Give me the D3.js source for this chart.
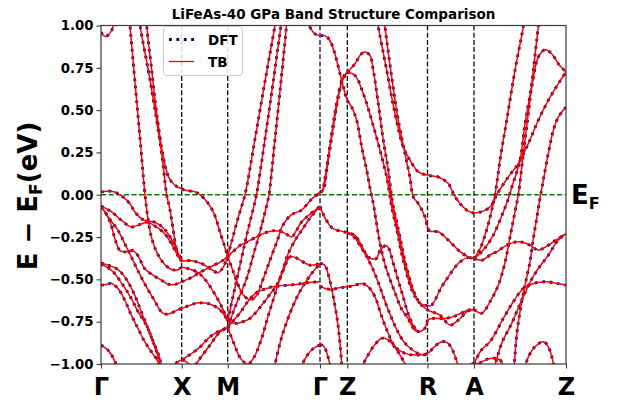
<!DOCTYPE html>
<html><head><meta charset="utf-8">
<script src="https://cdn.jsdelivr.net/npm/d3@7"></script>
<style>body{margin:0;background:#fff;}svg{display:block;font-family:"DejaVu Sans",sans-serif;}</style>
</head><body><svg id="c" width="617" height="402"></svg>
<script>
const titleText = "LiFeAs-40 GPa Band Structure Comparison";
const kTicks = [0, 0.807, 1.267, 2.19, 2.463, 3.265, 3.73, 4.65];
const kLabels = ["Γ", "X", "M", "Γ", "Z", "R", "A", "Z"];
const eTicks = [-1, -0.75, -0.5, -0.25, 0, 0.25, 0.5, 0.75, 1];
const seriesNames = ["DFT", "TB"];

// Γ – X – M
const band01 = [[0,0.96],[0.04,0.935],[0.09,0.955],[0.125,1.0],[0.14,1.06]];
const band02 = [[0.278,1.08],[0.33,0.73],[0.385,0.37],[0.44,0.0],[0.465,-0.12],[0.5,-0.24],[0.55,-0.33],[0.62,-0.40],[0.7,-0.44],[0.76,-0.445],[0.807,-0.43],[0.87,-0.436],[0.97,-0.46],[1.04,-0.5],[1.1,-0.55],[1.17,-0.62],[1.23,-0.69],[1.267,-0.745]];
const band03 = [[0.375,1.08],[0.39,1.0],[0.473,0.736],[0.54,0.5],[0.607,0.243],[0.657,0.0],[0.687,-0.08],[0.72,-0.2],[0.753,-0.318],[0.785,-0.38],[0.807,-0.39],[0.9,-0.39],[1.0,-0.405],[1.1,-0.44],[1.17,-0.46],[1.22,-0.43],[1.267,-0.363]];
const band04 = [[0.45,1.08],[0.457,1.0],[0.507,0.737],[0.557,0.48],[0.623,0.224],[0.68,0.1],[0.74,0.056],[0.807,0.035],[0.84,0.027],[0.94,0.017],[0.99,0.0],[1.05,-0.035],[1.123,-0.101],[1.19,-0.22],[1.267,-0.363]];
const band05 = [[0,0.015],[0.05,0.02],[0.103,0.02],[0.17,0.007],[0.22,-0.013],[0.287,-0.052],[0.337,-0.1],[0.403,-0.141],[0.47,-0.16],[0.553,-0.19],[0.637,-0.23],[0.703,-0.288],[0.77,-0.36],[0.807,-0.386]];
const band06 = [[0,-0.066],[0.103,-0.1],[0.203,-0.15],[0.303,-0.19],[0.37,-0.18],[0.437,-0.165],[0.503,-0.158],[0.57,-0.172],[0.637,-0.205],[0.703,-0.26],[0.76,-0.33],[0.807,-0.39]];
const band07 = [[0,-0.072],[0.04,-0.1],[0.09,-0.16],[0.15,-0.28],[0.19,-0.33],[0.24,-0.338],[0.28,-0.333],[0.32,-0.33],[0.37,-0.36],[0.437,-0.436],[0.52,-0.475],[0.603,-0.504],[0.67,-0.528],[0.737,-0.53],[0.807,-0.515],[0.9,-0.49],[1.0,-0.455],[1.1,-0.425],[1.2,-0.395],[1.267,-0.363]];
const band08 = [[0,-0.07],[0.06,-0.12],[0.12,-0.17],[0.17,-0.21],[0.237,-0.288],[0.303,-0.367],[0.37,-0.45],[0.45,-0.54],[0.53,-0.62],[0.6,-0.69],[0.64,-0.705],[0.7,-0.7],[0.76,-0.682],[0.807,-0.672],[0.88,-0.655],[0.96,-0.64],[1.04,-0.64],[1.1,-0.648],[1.17,-0.67],[1.22,-0.7],[1.267,-0.745]];
const band09 = [[0,-0.403],[0.07,-0.416],[0.153,-0.436],[0.203,-0.46],[0.27,-0.515],[0.337,-0.593],[0.403,-0.691],[0.47,-0.79],[0.537,-0.888],[0.587,-0.966],[0.605,-1.03]];
const band10 = [[0,-0.41],[0.053,-0.426],[0.12,-0.455],[0.22,-0.534],[0.303,-0.613],[0.37,-0.691],[0.453,-0.77],[0.52,-0.868],[0.587,-0.986],[0.6,-1.03]];
const band11 = [[0,-0.534],[0.053,-0.53],[0.103,-0.524],[0.17,-0.554],[0.237,-0.622],[0.303,-0.711],[0.37,-0.79],[0.437,-0.868],[0.503,-0.927],[0.57,-0.986],[0.59,-1.03]];
const band12 = [[0,-0.888],[0.07,-0.918],[0.14,-0.986],[0.16,-1.03]];
const band13 = [[0.7,-1.03],[0.76,-0.99],[0.807,-0.976],[0.86,-0.99],[0.9,-1.03]];
const band14 = [[0.88,-1.03],[0.95,-1.0],[0.99,-0.967],[1.09,-0.888],[1.19,-0.81],[1.267,-0.785]];
const band15 = [[0.807,-0.976],[0.9,-0.94],[0.99,-0.9],[1.07,-0.85],[1.15,-0.815],[1.267,-0.785]];

// M – Γ
const band16 = [[1.267,-0.363],[1.31,-0.27],[1.36,-0.16],[1.40,-0.08],[1.44,0.0],[1.54,0.33],[1.64,0.67],[1.74,1.0],[1.752,1.04]];
const band17 = [[1.267,-0.745],[1.323,-0.593],[1.39,-0.416],[1.457,-0.239],[1.523,-0.082],[1.555,0.0],[1.64,0.33],[1.72,0.66],[1.8,1.0],[1.81,1.04]];
const band18 = [[1.267,-0.785],[1.323,-0.691],[1.39,-0.593],[1.457,-0.495],[1.523,-0.357],[1.59,-0.219],[1.657,-0.062],[1.68,0.0],[1.74,0.33],[1.8,0.67],[1.855,1.0],[1.86,1.04]];
const band19 = [[1.267,-0.363],[1.33,-0.33],[1.39,-0.3],[1.44,-0.285],[1.52,-0.26],[1.6,-0.235],[1.673,-0.219],[1.74,-0.212],[1.807,-0.219],[1.86,-0.235],[1.907,-0.249],[1.95,-0.215],[2.007,-0.16],[2.09,-0.115],[2.19,-0.07]];
const band20 = [[1.267,-0.745],[1.35,-0.76],[1.42,-0.75],[1.49,-0.73],[1.57,-0.68],[1.657,-0.613],[1.757,-0.534],[1.82,-0.45],[1.89,-0.367],[1.94,-0.37],[1.99,-0.386],[2.09,-0.416],[2.19,-0.406]];
const band21 = [[1.267,-0.785],[1.33,-0.74],[1.4,-0.69],[1.47,-0.63],[1.55,-0.58],[1.65,-0.555],[1.75,-0.54],[1.85,-0.535],[1.95,-0.53],[2.05,-0.52],[2.19,-0.514]];
const band22 = [[1.267,-0.363],[1.323,-0.455],[1.373,-0.534],[1.423,-0.593],[1.49,-0.62],[1.55,-0.6],[1.62,-0.5],[1.7,-0.37],[1.77,-0.26],[1.81,-0.19],[1.9,-0.12],[2.007,-0.09],[2.1,-0.03],[2.19,0.015]];
const band23 = [[1.267,-0.785],[1.33,-0.88],[1.4,-0.97],[1.47,-1.0],[1.53,-0.96],[1.6,-0.86],[1.68,-0.7],[1.76,-0.55],[1.82,-0.44],[1.873,-0.347],[1.95,-0.26],[2.007,-0.21],[2.1,-0.13],[2.19,-0.07]];
const band24 = [[1.73,-1.03],[1.78,-0.9],[1.823,-0.81],[1.923,-0.652],[2.0,-0.56],[2.1,-0.47],[2.19,-0.406]];
const band25 = [[1.99,-1.03],[2.05,-0.96],[2.12,-0.91],[2.19,-0.888]];

// Γ – Z – R – A – Z
const band26 = [[2.05,1.03],[2.14,0.95],[2.19,0.94],[2.24,0.94],[2.29,0.91],[2.34,0.83],[2.407,0.675],[2.463,0.558],[2.507,0.518],[2.557,0.44],[2.607,0.282],[2.657,0.145],[2.69,0.04],[2.72,-0.042],[2.753,-0.16],[2.787,-0.278],[2.837,-0.406],[2.887,-0.495],[2.937,-0.573],[3.003,-0.672],[3.07,-0.731],[3.137,-0.8],[3.17,-0.809],[3.237,-0.79],[3.27,-0.74],[3.32,-0.731],[3.42,-0.731],[3.5,-0.725],[3.6,-0.7],[3.68,-0.68],[3.73,-0.677]];
const band27 = [[2.19,0.017],[2.223,0.03],[2.257,0.145],[2.307,0.341],[2.373,0.577],[2.423,0.695],[2.463,0.725]];
const band28 = [[2.19,0.017],[2.21,0.02],[2.24,0.1],[2.29,0.29],[2.35,0.52],[2.41,0.67],[2.463,0.725]];
const band29 = [[2.463,0.725],[2.54,0.774],[2.6,0.83],[2.64,0.843],[2.69,0.823],[2.723,0.735],[2.773,0.538],[2.823,0.322],[2.873,0.145],[2.907,-0.013],[2.93,-0.09],[2.96,-0.17],[2.99,-0.25],[3.02,-0.34],[3.07,-0.46],[3.12,-0.56],[3.17,-0.625],[3.22,-0.66],[3.265,-0.68],[3.3,-0.69],[3.39,-0.711],[3.49,-0.77],[3.59,-0.731],[3.66,-0.69],[3.73,-0.677]];
const band30 = [[2.463,0.725],[2.54,0.705],[2.623,0.597],[2.707,0.44],[2.79,0.263],[2.857,0.105],[2.89,-0.013],[2.91,-0.08],[2.94,-0.16],[2.97,-0.24],[3.0,-0.33],[3.05,-0.45],[3.1,-0.55],[3.15,-0.61],[3.2,-0.645],[3.265,-0.655],[3.3,-0.655],[3.34,-0.622],[3.4,-0.55],[3.473,-0.485],[3.573,-0.406],[3.673,-0.37],[3.73,-0.377]];
const band31 = [[2.765,1.03],[2.773,0.994],[2.857,0.735],[2.94,0.479],[3.023,0.282],[3.09,0.204],[3.173,0.135],[3.273,0.115],[3.373,0.105],[3.473,0.066],[3.53,0.0],[3.59,-0.052],[3.673,-0.097],[3.73,-0.107],[3.823,-0.097],[3.907,-0.062],[3.957,0.0],[4.073,0.105],[4.173,0.184],[4.273,0.302],[4.373,0.44],[4.473,0.558],[4.573,0.656],[4.65,0.725]];
const band32 = [[2.835,1.03],[2.84,0.994],[2.907,0.695],[2.973,0.44],[3.04,0.243],[3.09,0.1],[3.123,-0.013],[3.173,-0.052],[3.24,-0.131],[3.265,-0.19],[3.29,-0.215],[3.373,-0.219],[3.473,-0.268],[3.573,-0.327],[3.673,-0.367],[3.73,-0.377]];
const band33 = [[2.19,-0.07],[2.253,-0.15],[2.32,-0.2],[2.403,-0.215],[2.463,-0.225],[2.537,-0.239],[2.603,-0.298],[2.65,-0.35],[2.687,-0.373],[2.72,-0.38],[2.753,-0.377],[2.79,-0.33],[2.82,-0.31],[2.85,-0.30],[2.88,-0.32],[2.92,-0.40],[2.97,-0.5],[3.02,-0.6],[3.07,-0.7],[3.12,-0.77],[3.17,-0.809]];
const band34 = [[2.463,-0.225],[2.53,-0.25],[2.6,-0.31],[2.66,-0.37],[2.72,-0.44],[2.78,-0.53],[2.84,-0.63],[2.9,-0.72],[2.96,-0.8],[3.03,-0.87],[3.1,-0.91],[3.18,-0.94],[3.265,-0.947]];
const band35 = [[2.19,-0.54],[2.25,-0.555],[2.307,-0.56],[2.38,-0.55],[2.463,-0.544],[2.54,-0.535],[2.607,-0.524],[2.673,-0.544],[2.74,-0.603],[2.807,-0.72],[2.873,-0.82],[2.94,-0.898],[3.04,-0.937],[3.14,-0.947],[3.265,-0.937],[3.33,-0.9],[3.4,-0.87],[3.45,-0.87],[3.5,-0.9],[3.55,-0.97],[3.58,-1.03]];
const band36 = [[2.19,-0.406],[2.237,-0.416],[2.27,-0.465],[2.32,-0.593],[2.37,-0.77],[2.403,-0.966],[2.41,-1.03]];
const band37 = [[2.19,-0.888],[2.22,-0.89],[2.25,-0.92],[2.28,-0.98],[2.3,-1.03]];
const band38 = [[2.6,-1.03],[2.64,-0.98],[2.723,-0.898],[2.807,-0.848],[2.873,-0.858],[2.957,-0.917],[3.04,-1.0],[3.06,-1.03]];
const band39 = [[3.73,-0.377],[3.807,-0.387],[3.857,-0.37],[3.907,-0.35],[3.957,-0.337],[4.057,-0.298],[4.14,-0.28],[4.19,-0.278],[4.29,-0.298],[4.373,-0.327],[4.473,-0.298],[4.523,-0.278],[4.573,-0.259],[4.65,-0.229]];
const band40 = [[3.73,-0.377],[3.79,-0.32],[3.85,-0.22],[3.9,-0.11],[3.94,0.0],[3.99,0.204],[4.057,0.44],[4.14,0.735],[4.223,0.994],[4.23,1.03]];
const band41 = [[3.73,-0.377],[3.823,-0.327],[3.923,-0.239],[4.023,-0.101],[4.07,-0.03],[4.1,0.03],[4.19,0.204],[4.24,0.42],[4.307,0.636],[4.373,0.813],[4.44,0.857],[4.507,0.833],[4.573,0.774],[4.65,0.725]];
const band42 = [[3.73,-0.677],[3.807,-0.70],[3.89,-0.632],[3.973,-0.534],[4.04,-0.4],[4.1,-0.22],[4.14,-0.1],[4.173,0.0],[4.223,0.243],[4.273,0.479],[4.323,0.735],[4.373,0.994],[4.38,1.03]];
const band43 = [[4.13,-1.03],[4.157,-0.829],[4.19,-0.691],[4.24,-0.534],[4.29,-0.396],[4.323,-0.26],[4.357,-0.14],[4.39,-0.02],[4.423,0.085],[4.473,0.243],[4.523,0.38],[4.573,0.459],[4.65,0.518]];
const band44 = [[3.73,-1.0],[3.8,-0.92],[3.89,-0.868],[4.023,-0.731],[4.123,-0.632],[4.223,-0.554],[4.323,-0.524],[4.457,-0.514],[4.557,-0.524],[4.65,-0.534]];
const band45 = [[3.93,-1.03],[4.007,-0.878],[4.107,-0.76],[4.207,-0.622],[4.34,-0.465],[4.473,-0.357],[4.573,-0.268],[4.65,-0.229]];
const band46 = [[4.23,-1.03],[4.28,-0.95],[4.34,-0.898],[4.423,-0.868],[4.473,-0.898],[4.523,-0.996],[4.53,-1.03]];
const band47 = [[3.66,-1.03],[3.7,-1.0],[3.757,-1.0],[3.89,-0.967],[3.99,-0.976],[4.03,-1.03]];

const bands = [band01,band02,band03,band04,band05,band06,band07,band08,band09,band10,
  band11,band12,band13,band14,band15,band16,band17,band18,band19,band20,
  band21,band22,band23,band24,band25,band26,band27,band28,band29,band30,
  band31,band32,band33,band34,band35,band36,band37,band38,band39,band40,
  band41,band42,band43,band44,band45,band46,band47];

const svg = d3.select("#c");
const x = d3.scaleLinear().domain([0, 4.65]).range([101, 566]);
const y = d3.scaleLinear().domain([-1, 1]).range([364, 25.5]);
const frameColor = "#3a3a3a";
const dftColor = "#00007f", tbColor = "#ff0000";
const dftDash = "2.8 4.6";

svg.append("defs").append("clipPath").attr("id","clip")
  .append("rect").attr("x",x(0)).attr("y",y(1)).attr("width",x(4.65)-x(0)).attr("height",y(-1)-y(1));

// high symmetry verticals
svg.append("g").selectAll("line").data(kTicks.slice(1,-1)).join("line")
  .attr("x1",d=>x(d)).attr("x2",d=>x(d)).attr("y1",y(1)).attr("y2",y(-1))
  .attr("stroke","#111").attr("stroke-width",1.3).attr("stroke-dasharray","5 2.2");

// Fermi level
svg.append("line").attr("x1",x(0)).attr("x2",x(4.65)).attr("y1",y(0)).attr("y2",y(0))
  .attr("stroke","#008000").attr("stroke-width",1.4).attr("stroke-dasharray","5.2 2.4");

const line = d3.line().x(d=>x(d[0])).y(d=>y(d[1])).curve(d3.curveCatmullRom.alpha(0.5));
const plot = svg.append("g").attr("clip-path","url(#clip)");
plot.append("g").selectAll("path").data(bands).join("path")
  .attr("d",line).attr("fill","none").attr("stroke",dftColor)
  .attr("stroke-width",2.8).attr("stroke-dasharray",dftDash);
plot.append("g").selectAll("path").data(bands).join("path")
  .attr("d",line).attr("fill","none").attr("stroke",tbColor).attr("stroke-width",1.5);

// frame
svg.append("rect").attr("x",x(0)).attr("y",y(1)).attr("width",x(4.65)-x(0)).attr("height",y(-1)-y(1))
  .attr("fill","none").attr("stroke",frameColor).attr("stroke-width",1.2);

// axes
const ya = svg.append("g").attr("transform",`translate(${x(0)},0)`)
  .call(d3.axisLeft(y).tickValues(eTicks).tickFormat(d3.format(".2f")).tickSize(4.5).tickPadding(3));
ya.select(".domain").remove();
ya.selectAll("line").attr("stroke",frameColor).attr("stroke-width",1.1);
ya.selectAll("text").attr("font-family","DejaVu Sans").attr("font-weight","bold").attr("font-size",13.3).attr("fill","#000");

const xa = svg.append("g").attr("transform",`translate(0,${y(-1)})`)
  .call(d3.axisBottom(x).tickValues(kTicks).tickFormat((d,i)=>kLabels[i]).tickSize(4.5).tickPadding(9));
xa.select(".domain").remove();
xa.selectAll("line").attr("stroke",frameColor).attr("stroke-width",1.1);
xa.selectAll("text").attr("font-family","DejaVu Sans").attr("font-weight","bold").attr("font-size",24).attr("fill","#000");

// title
svg.append("text").attr("x",333.5).attr("y",19).attr("text-anchor","middle")
  .attr("font-weight","bold").attr("font-size",13.5).text(titleText);

// y label
const yl = svg.append("text").attr("transform","translate(37,196) rotate(-90)")
  .attr("text-anchor","middle").attr("font-weight","bold").attr("font-size",26);
yl.append("tspan").text("E − E");
yl.append("tspan").attr("font-size",17).attr("dy",5).text("F");
yl.append("tspan").attr("dy",-5).text("(eV)");

// E_F label
const ef = svg.append("text").attr("x",571).attr("y",204).attr("font-weight","bold").attr("font-size",26);
ef.append("tspan").text("E");
ef.append("tspan").attr("font-size",16).attr("dy",5).text("F");

// legend
const lg = svg.append("g");
lg.append("rect").attr("x",163.5).attr("y",26.5).attr("width",79).attr("height",49).attr("rx",3)
  .attr("fill","#fff").attr("fill-opacity",0.85).attr("stroke","#cccccc").attr("stroke-width",1);
lg.append("line").attr("x1",169).attr("x2",194).attr("y1",39.5).attr("y2",39.5)
  .attr("stroke",dftColor).attr("stroke-width",2.8).attr("stroke-dasharray",dftDash);
lg.append("line").attr("x1",169).attr("x2",194).attr("y1",61.5).attr("y2",61.5)
  .attr("stroke",tbColor).attr("stroke-width",1.3);
lg.selectAll("text.lt").data(seriesNames).join("text").attr("class","lt")
  .attr("x",208).attr("y",(d,i)=>44.5+i*22).attr("font-weight","bold").attr("font-size",13.5).text(d=>d);
</script></body></html>
